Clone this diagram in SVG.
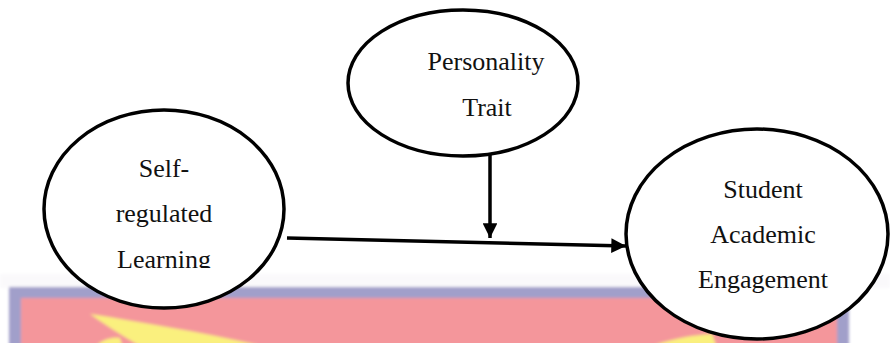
<svg xmlns="http://www.w3.org/2000/svg" width="890" height="343" viewBox="0 0 890 343">
  <defs>
    <style>
      .node { fill: #ffffff; stroke: #000000; stroke-width: 3.5; }
      .label { font-family: "Liberation Serif", "Times New Roman", serif; font-size: 26px; fill: #111111; text-anchor: middle; }
      .edge { stroke: #000000; stroke-width: 3.5; fill: none; }
    </style>
    <marker id="arrow" viewBox="0 0 10 10" refX="10" refY="5" markerWidth="4.2" markerHeight="4.2" orient="auto" markerUnits="strokeWidth">
      <path d="M0,0 L10,5 L0,10 z" fill="#000000"/>
    </marker>
    <filter id="soft" x="-5%" y="-20%" width="110%" height="140%">
      <feGaussianBlur stdDeviation="1.6"/>
    </filter>
    <clipPath id="clipLearning">
      <rect x="40" y="100" width="260" height="168"/>
    </clipPath>
  </defs>

  <rect x="0" y="0" width="890" height="343" fill="#ffffff"/>

  <!-- faded banner behind the lower part -->
  <g id="banner" filter="url(#soft)">
    <rect x="0" y="274" width="890" height="14" fill="#f6f5f8" opacity="0.6"/>
    <rect x="9" y="287" width="840" height="70" fill="#a19fca"/>
    <rect x="21" y="298" width="816" height="60" fill="#f4969b"/>
    <path d="M90,314 C140,322 200,332 258,345 L138,345 C120,334 104,324 90,314 Z" fill="#faf07e"/>
    <path d="M97,345 C104,339 112,337 120,338 L122,345 Z" fill="#faf07e"/>
    <path d="M655,345 C675,338 695,335 712,334 L716,345 Z" fill="#faf07e"/>
  </g>

  <!-- connectors -->
  <g id="connectors">
    <line class="edge" x1="287" y1="238" x2="626" y2="246" marker-end="url(#arrow)"/>
    <line class="edge" x1="490" y1="155" x2="490" y2="238" marker-end="url(#arrow)"/>
  </g>

  <g id="node-personality">
    <ellipse class="node" cx="463" cy="83" rx="115" ry="73"/>
    <text class="label" x="486" y="70">Personality</text>
    <text class="label" x="487" y="116">Trait</text>
  </g>

  <g id="node-srl">
    <ellipse class="node" cx="164" cy="209" rx="120" ry="99"/>
    <g clip-path="url(#clipLearning)">
      <text class="label" x="164" y="177">Self-</text>
      <text class="label" x="164" y="222">regulated</text>
      <text class="label" x="164" y="268">Learning</text>
    </g>
  </g>

  <g id="node-engagement">
    <ellipse class="node" cx="757" cy="234" rx="131" ry="105"/>
    <text class="label" x="763" y="198">Student</text>
    <text class="label" x="763" y="243">Academic</text>
    <text class="label" x="763" y="288">Engagement</text>
  </g>
</svg>
